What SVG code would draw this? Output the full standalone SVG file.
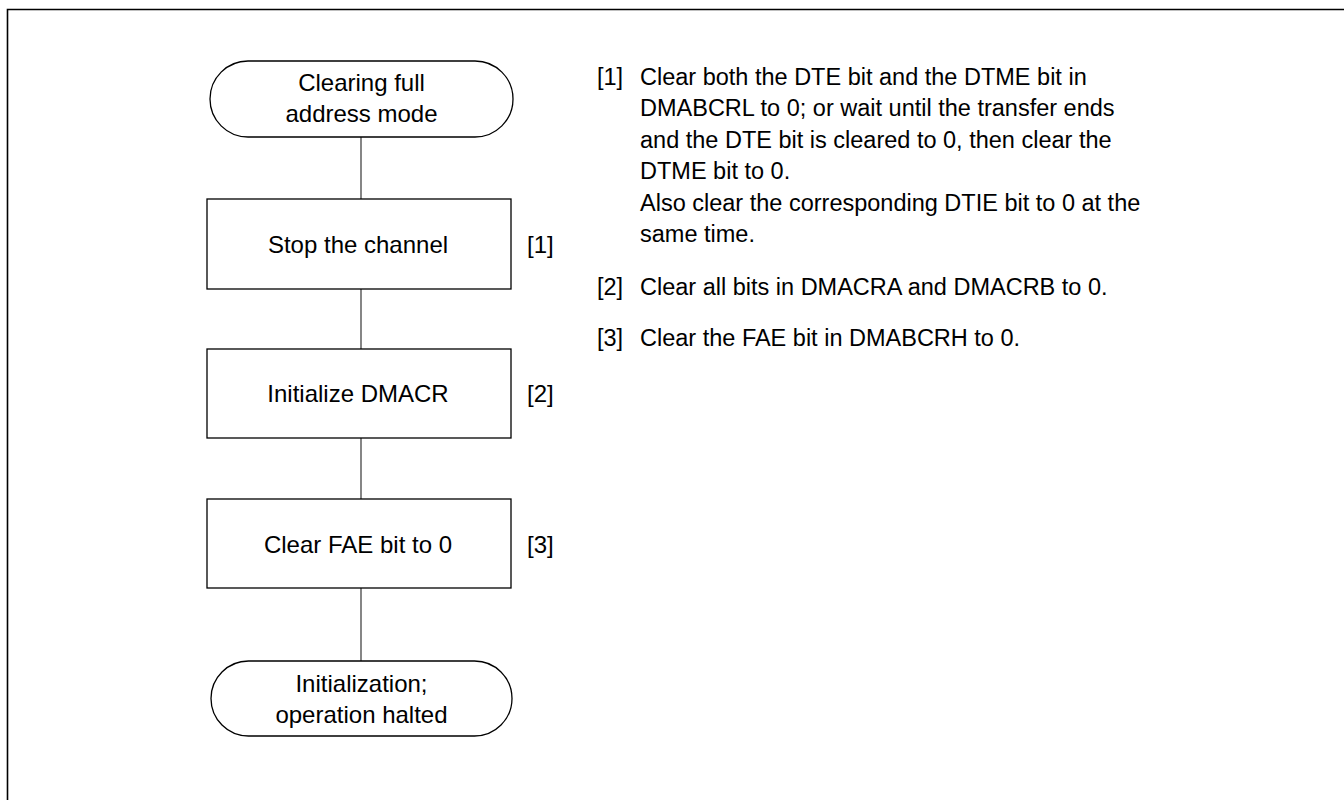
<svg xmlns="http://www.w3.org/2000/svg" width="1344" height="800" viewBox="0 0 1344 800">
<style>
.t{font-family:"Liberation Sans",Arial,sans-serif;font-size:24px;fill:#000}
.c{text-anchor:middle}
.r{font-family:"Liberation Sans",Arial,sans-serif;font-size:23.5px;fill:#000}
.shape{fill:#fff;stroke:#000;stroke-width:1.3}
.conn{stroke:#444;stroke-width:1.3;fill:none}
</style>
<rect width="1344" height="800" fill="#fff"/>
<path d="M7.5,800 V9.5 H1344" fill="none" stroke="#000" stroke-width="1.6"/>
<g id="connectors">
<line class="conn" x1="361" y1="137" x2="361" y2="199"/>
<line class="conn" x1="361" y1="289" x2="361" y2="349"/>
<line class="conn" x1="361" y1="438" x2="361" y2="499"/>
<line class="conn" x1="361" y1="588" x2="361" y2="661"/>
</g>
<g id="start">
<rect class="shape" x="210" y="61" width="303" height="76" rx="38" ry="38"/>
<text class="t c" x="361.5" y="91">Clearing full</text>
<text class="t c" x="361.5" y="122">address mode</text>
</g>
<g id="step1">
<rect class="shape" x="207" y="199" width="304" height="90"/>
<text class="t c" x="358" y="253">Stop the channel</text>
<text class="t" x="527" y="253">[1]</text>
</g>
<g id="step2">
<rect class="shape" x="207" y="349" width="304" height="89"/>
<text class="t c" x="358" y="402">Initialize DMACR</text>
<text class="t" x="527" y="402">[2]</text>
</g>
<g id="step3">
<rect class="shape" x="207" y="499" width="304" height="89"/>
<text class="t c" x="358" y="553">Clear FAE bit to 0</text>
<text class="t" x="527" y="553">[3]</text>
</g>
<g id="end">
<rect class="shape" x="211" y="661" width="301" height="75" rx="37.5" ry="37.5"/>
<text class="t c" x="361.5" y="692">Initialization;</text>
<text class="t c" x="361.5" y="723">operation halted</text>
</g>
<g id="notes">
<text class="r" x="597" y="84.5">[1]</text>
<text class="r" x="640" y="84.5">Clear both the DTE bit and the DTME bit in</text>
<text class="r" x="640" y="116">DMABCRL to 0; or wait until the transfer ends</text>
<text class="r" x="640" y="147.5">and the DTE bit is cleared to 0, then clear the</text>
<text class="r" x="640" y="179">DTME bit to 0.</text>
<text class="r" x="640" y="210.5">Also clear the corresponding DTIE bit to 0 at the</text>
<text class="r" x="640" y="242">same time.</text>
<text class="r" x="597" y="295">[2]</text>
<text class="r" x="640" y="295">Clear all bits in DMACRA and DMACRB to 0.</text>
<text class="r" x="597" y="346">[3]</text>
<text class="r" x="640" y="346">Clear the FAE bit in DMABCRH to 0.</text>
</g>
</svg>
